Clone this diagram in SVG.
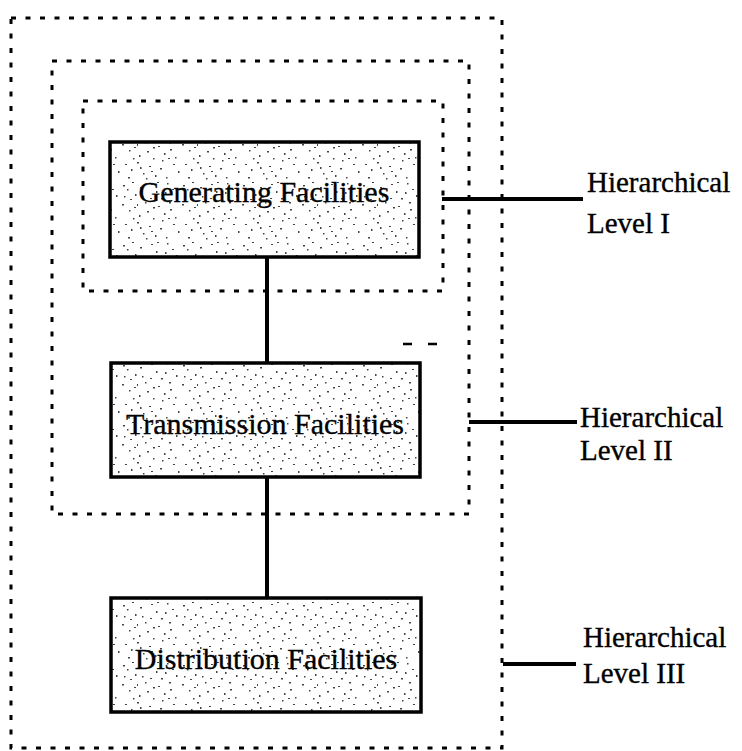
<svg xmlns="http://www.w3.org/2000/svg" width="742" height="751" viewBox="0 0 742 751">
<style>
.zone{fill:none;stroke:#000;stroke-width:3;stroke-dasharray:5 9.5}
.box{fill:url(#speck);stroke:#000;stroke-width:3.5}
.conn{stroke:#000;stroke-width:4;fill:none}
</style>
<defs>
<pattern id="speck" width="60" height="60" patternUnits="userSpaceOnUse">
<rect width="60" height="60" fill="#fff"/>
<g fill="#444">
<rect x="3" y="5" width="2" height="1.5"/><rect x="7" y="9" width="1.5" height="1.5"/><rect x="12" y="2" width="2" height="1"/><rect x="15" y="14" width="1.5" height="2"/>
<rect x="20" y="7" width="2" height="1.5"/><rect x="25" y="22" width="1.5" height="1.5"/><rect x="31" y="4" width="2" height="1"/><rect x="36" y="11" width="1.5" height="2"/>
<rect x="41" y="18" width="2" height="1.5"/><rect x="47" y="3" width="1.5" height="1.5"/><rect x="52" y="9" width="2" height="1"/><rect x="56" y="15" width="1.5" height="2"/>
<rect x="2" y="24" width="2" height="1.5"/><rect x="9" y="30" width="1.5" height="1.5"/><rect x="14" y="27" width="2" height="1"/><rect x="19" y="35" width="1.5" height="2"/>
<rect x="27" y="31" width="2" height="1.5"/><rect x="33" y="38" width="1.5" height="1.5"/><rect x="38" y="26" width="2" height="1"/><rect x="44" y="33" width="1.5" height="2"/>
<rect x="50" y="29" width="2" height="1.5"/><rect x="55" y="37" width="1.5" height="1.5"/><rect x="5" y="44" width="2" height="1"/><rect x="11" y="49" width="1.5" height="2"/>
<rect x="17" y="42" width="2" height="1.5"/><rect x="23" y="53" width="1.5" height="1.5"/><rect x="29" y="46" width="2" height="1"/><rect x="35" y="55" width="1.5" height="2"/>
<rect x="40" y="48" width="2" height="1.5"/><rect x="46" y="57" width="1.5" height="1.5"/><rect x="53" y="44" width="2" height="1"/><rect x="58" y="51" width="1.5" height="2"/>
<rect x="8" y="57" width="2" height="1.5"/><rect x="22" y="16" width="1.5" height="1.5"/><rect x="30" y="18" width="2" height="1"/><rect x="45" y="12" width="1.5" height="2"/>
<rect x="49" y="22" width="2" height="1.5"/><rect x="13" y="38" width="1.5" height="1.5"/><rect x="37" y="2" width="2" height="1"/><rect x="26" y="58" width="1.5" height="1.5"/>
<rect x="4" y="16" width="1.5" height="1.5"/><rect x="10" y="19" width="2" height="1"/><rect x="17" y="24" width="1" height="2"/><rect x="33" y="27" width="2" height="1.5"/>
<rect x="42" y="40" width="1.5" height="1.5"/><rect x="48" y="38" width="2" height="1"/><rect x="20" y="47" width="1.5" height="2"/><rect x="31" y="51" width="2" height="1"/>
</g>
</pattern>
</defs>
<rect width="742" height="751" fill="#fff"/>
<g id="zones">
<rect class="zone" x="11" y="18" width="491" height="730"/>
<rect class="zone" x="52" y="61" width="417" height="453"/>
<rect class="zone" x="83" y="101" width="360" height="190"/>
<path d="M403 344h9M428 344h9" stroke="#000" stroke-width="2.5"/>
</g>
<g id="connectors">
<line class="conn" x1="267" y1="257" x2="267" y2="363"/>
<line class="conn" x1="267" y1="477" x2="267" y2="598"/>
<line class="conn" x1="442" y1="199" x2="583" y2="199"/>
<line class="conn" x1="469" y1="422" x2="577" y2="422"/>
<line class="conn" x1="503" y1="664" x2="576" y2="664"/>
</g>
<g font-family="Liberation Serif, Times New Roman, serif" fill="#000" stroke="#000" stroke-width="0.35">
<g id="node-generating">
<rect class="box" x="110" y="142" width="309" height="115"/>
<text font-size="30" x="264" y="202" text-anchor="middle">Generating Facilities</text>
</g>
<g id="node-transmission">
<rect class="box" x="111" y="363" width="309" height="114"/>
<text font-size="30" x="265" y="434" text-anchor="middle">Transmission Facilities</text>
</g>
<g id="node-distribution">
<rect class="box" x="111" y="598" width="310" height="114"/>
<text font-size="30" x="266" y="669" text-anchor="middle">Distribution Facilities</text>
</g>
<g id="level-1">
<text font-size="29" x="587" y="192">Hierarchical</text>
<text font-size="29" x="587" y="233">Level I</text>
</g>
<g id="level-2">
<text font-size="29" x="580" y="427">Hierarchical</text>
<text font-size="29" x="580" y="460">Level II</text>
</g>
<g id="level-3">
<text font-size="29" x="583" y="647">Hierarchical</text>
<text font-size="29" x="583" y="683">Level III</text>
</g>
</g>
</svg>
